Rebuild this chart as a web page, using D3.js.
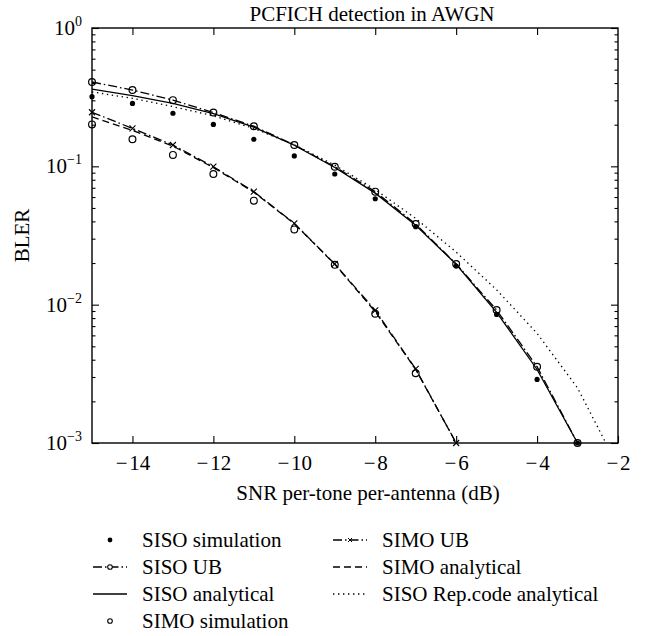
<!DOCTYPE html>
<html>
<head>
<meta charset="utf-8">
<script src="https://cdn.jsdelivr.net/npm/d3@7"></script>
<style>
  body { margin: 0; background: #fff; }
  svg { display: block; font-family: "Liberation Serif", "DejaVu Serif", serif; }
  text { font-family: "Liberation Serif", "DejaVu Serif", serif; fill: #000; }
</style>
</head>
<body>
<svg id="chart"></svg>
<script>
// values (BLER vs SNR)
var snr = [-15, -14, -13, -12, -11, -10, -9, -8, -7, -6, -5, -4, -3];
var sisoSim = [0.319, 0.285, 0.242, 0.201, 0.157, 0.119, 0.088, 0.0583, 0.0366, 0.019, 0.0085, 0.00288, 0.001];
var sisoUB = [0.407, 0.356, 0.301, 0.245, 0.195, 0.1426, 0.0994, 0.0656, 0.0383, 0.0197, 0.00915, 0.00356, 0.001];
var sisoAna = [0.362, 0.325, 0.285, 0.24, 0.192, 0.142, 0.098, 0.064, 0.0375, 0.0196, 0.0088, 0.0034, 0.001];

var repSnr = [-15, -14, -13, -12, -11, -10, -9, -8, -7, -6, -5, -4, -3, -2.3];
var sisoRep = [0.345, 0.31, 0.27, 0.232, 0.188, 0.143, 0.102, 0.068, 0.042, 0.024, 0.0128, 0.0062, 0.0025, 0.001];

var simoSnr = [-15, -14, -13, -12, -11, -10, -9, -8, -7, -6];
var simoUB = [0.246, 0.188, 0.1426, 0.0994, 0.0656, 0.0387, 0.0197, 0.0091, 0.00343, 0.001];
var simoAna = [0.228, 0.182, 0.14, 0.098, 0.065, 0.0385, 0.0196, 0.0089, 0.0034, 0.001];
var simoSimSnr = [-15, -14, -13, -12, -11, -10, -9, -8, -7];
var simoSim = [0.201, 0.157, 0.121, 0.088, 0.0565, 0.035, 0.0194, 0.0086, 0.00319];

var xTicks = [-14, -12, -10, -8, -6, -4, -2];
var yTicks = [1, 0.1, 0.01, 0.001];
var yTickExp = ["0", "\u22121", "\u22122", "\u22123"];

var width = 646, height = 636;
var plotL = 92, plotR = 618, plotT = 28, plotB = 443;

var svg = d3.select("#chart").attr("width", width).attr("height", height);

var x = d3.scaleLinear().domain([-15, -2]).range([plotL, plotR]);
var y = d3.scaleLog().domain([0.001, 1]).range([plotB, plotT]);

// minor ticks 2..9 per decade
var minor = [];
[0.001, 0.01, 0.1].forEach(function(d){
  for (var k = 2; k <= 9; k++) minor.push(d * k);
});

svg.append("defs").append("clipPath").attr("id", "clip")
  .append("rect").attr("x", plotL).attr("y", plotT)
  .attr("width", plotR - plotL).attr("height", plotB - plotT);

function zip(xs, ys){
  return xs.map(function(v, i){ return {x: v, y: ys[i]}; });
}

var line = d3.line()
  .x(function(d){ return x(d.x); })
  .y(function(d){ return y(d.y); });

// curves (clipped to the box)
var lines = svg.append("g").attr("clip-path", "url(#clip)");
var curves = [
  {data: zip(snr, sisoUB), dash: "9,3,1.5,3"},
  {data: zip(snr, sisoAna), dash: null},
  {data: zip(repSnr, sisoRep), dash: "1.4,3.6"},
  {data: zip(simoSnr, simoUB), dash: "9,3,1.5,3"},
  {data: zip(simoSnr, simoAna), dash: "7,4"}
];
curves.forEach(function(c){
  lines.append("path")
    .attr("fill", "none")
    .attr("stroke", "#000")
    .attr("stroke-width", 1.3)
    .attr("stroke-dasharray", c.dash)
    .attr("d", line(c.data));
});

// markers (not clipped, like the original)
var marks = svg.append("g");
marks.append("g").selectAll("circle")
  .data(zip(snr, sisoSim)).enter().append("circle")
  .attr("cx", function(d){ return x(d.x); })
  .attr("cy", function(d){ return y(d.y); })
  .attr("r", 2.6).attr("fill", "#000");

marks.append("g").selectAll("circle")
  .data(zip(snr, sisoUB)).enter().append("circle")
  .attr("cx", function(d){ return x(d.x); })
  .attr("cy", function(d){ return y(d.y); })
  .attr("r", 3.4).attr("fill", "none").attr("stroke", "#000").attr("stroke-width", 1.2);

marks.append("g").selectAll("circle")
  .data(zip(simoSimSnr, simoSim)).enter().append("circle")
  .attr("cx", function(d){ return x(d.x); })
  .attr("cy", function(d){ return y(d.y); })
  .attr("r", 3.4).attr("fill", "none").attr("stroke", "#000").attr("stroke-width", 1.2);

marks.append("g").selectAll("path")
  .data(zip(simoSnr, simoUB)).enter().append("path")
  .attr("transform", function(d){ return "translate(" + x(d.x) + "," + y(d.y) + ")"; })
  .attr("d", "M-3,-3L3,3M-3,3L3,-3")
  .attr("stroke", "#000").attr("stroke-width", 1.1);

// axes
function styleAxis(g){
  g.select(".domain").remove();
  g.selectAll("line").attr("stroke", "#000").attr("stroke-width", 1.1);
}

svg.append("g").attr("transform", "translate(0," + plotB + ")")
  .call(d3.axisBottom(x).tickValues(xTicks).tickSize(-7).tickSizeOuter(0).tickPadding(12)
    .tickFormat(function(d){ return "\u2212\u200a" + Math.abs(d); }))
  .call(styleAxis)
  .attr("font-family", null).attr("font-size", null)
  .selectAll("text").style("font-size", "21px");

svg.append("g").attr("transform", "translate(0," + plotT + ")")
  .call(d3.axisTop(x).tickValues(xTicks.slice(0, -1)).tickSize(-7).tickFormat(""))
  .call(styleAxis);

svg.append("g").attr("transform", "translate(" + plotL + ",0)")
  .call(d3.axisLeft(y).tickValues(yTicks).tickSize(-7).tickFormat(""))
  .call(styleAxis);
svg.append("g").attr("transform", "translate(" + plotL + ",0)")
  .call(d3.axisLeft(y).tickValues(minor).tickSize(-3.5).tickFormat(""))
  .call(styleAxis);
svg.append("g").attr("transform", "translate(" + plotR + ",0)")
  .call(d3.axisRight(y).tickValues(yTicks).tickSize(-7).tickFormat(""))
  .call(styleAxis);
svg.append("g").attr("transform", "translate(" + plotR + ",0)")
  .call(d3.axisRight(y).tickValues(minor).tickSize(-3.5).tickFormat(""))
  .call(styleAxis);

// frame
svg.append("rect")
  .attr("x", plotL).attr("y", plotT)
  .attr("width", plotR - plotL).attr("height", plotB - plotT)
  .attr("fill", "none").attr("stroke", "#000").attr("stroke-width", 1.4);

// y tick labels 10^n
var yl = svg.append("g").selectAll("text")
  .data(yTicks).enter().append("text")
  .attr("x", plotL - 10)
  .attr("y", function(d){ return y(d) + 7; })
  .attr("text-anchor", "end")
  .style("font-size", "21px");
yl.append("tspan").text("10");
yl.append("tspan").attr("dy", -9).style("font-size", "14px")
  .text(function(d, i){ return yTickExp[i]; });

// titles
svg.append("text")
  .attr("x", 372).attr("y", 21)
  .attr("text-anchor", "middle")
  .style("font-size", "21px")
  .text("PCFICH detection in AWGN");

svg.append("text")
  .attr("x", (plotL + plotR) / 2 + 13).attr("y", 500)
  .attr("text-anchor", "middle")
  .style("font-size", "21px")
  .text("SNR per-tone per-antenna (dB)");

svg.append("text")
  .attr("transform", "translate(29," + ((plotT + plotB) / 2) + ") rotate(-90)")
  .attr("text-anchor", "middle")
  .style("font-size", "21px")
  .text("BLER");

// legend
var legend = [
  {label: "SISO simulation", col: 0, row: 0, dash: null, noLine: true, marker: "dot"},
  {label: "SISO UB", col: 0, row: 1, dash: "9,3,1.5,3", marker: "circle"},
  {label: "SISO analytical", col: 0, row: 2, dash: null, marker: null},
  {label: "SIMO simulation", col: 0, row: 3, dash: null, noLine: true, marker: "circle"},
  {label: "SIMO UB", col: 1, row: 0, dash: "9,3,1.5,3", marker: "cross"},
  {label: "SIMO analytical", col: 1, row: 1, dash: "7,4", marker: null},
  {label: "SISO Rep.code analytical", col: 1, row: 2, dash: "1.4,3.6", marker: null}
];
var colX = [93, 333];
var rowY0 = 540, rowH = 27;

var lg = svg.append("g").selectAll("g")
  .data(legend).enter().append("g")
  .attr("transform", function(d){ return "translate(" + colX[d.col] + "," + (rowY0 + d.row * rowH) + ")"; });

lg.filter(function(d){ return !d.noLine; }).append("line")
  .attr("x1", 0).attr("x2", 34).attr("y1", 0).attr("y2", 0)
  .attr("stroke", "#000").attr("stroke-width", 1.3)
  .attr("stroke-dasharray", function(d){ return d.dash; });

lg.filter(function(d){ return d.marker == "dot"; }).append("circle")
  .attr("cx", 17).attr("cy", 0).attr("r", 2.4).attr("fill", "#000");
lg.filter(function(d){ return d.marker == "circle"; }).append("circle")
  .attr("cx", 17).attr("cy", 0).attr("r", 2.3)
  .attr("fill", "#fff").attr("stroke", "#000").attr("stroke-width", 1.1);
lg.filter(function(d){ return d.marker == "cross"; }).append("path")
  .attr("d", "M15,-2L19,2M15,2L19,-2")
  .attr("stroke", "#000").attr("stroke-width", 1);

lg.append("text")
  .attr("x", 49).attr("y", 7)
  .style("font-size", "21px")
  .text(function(d){ return d.label; });
</script>
</body>
</html>
